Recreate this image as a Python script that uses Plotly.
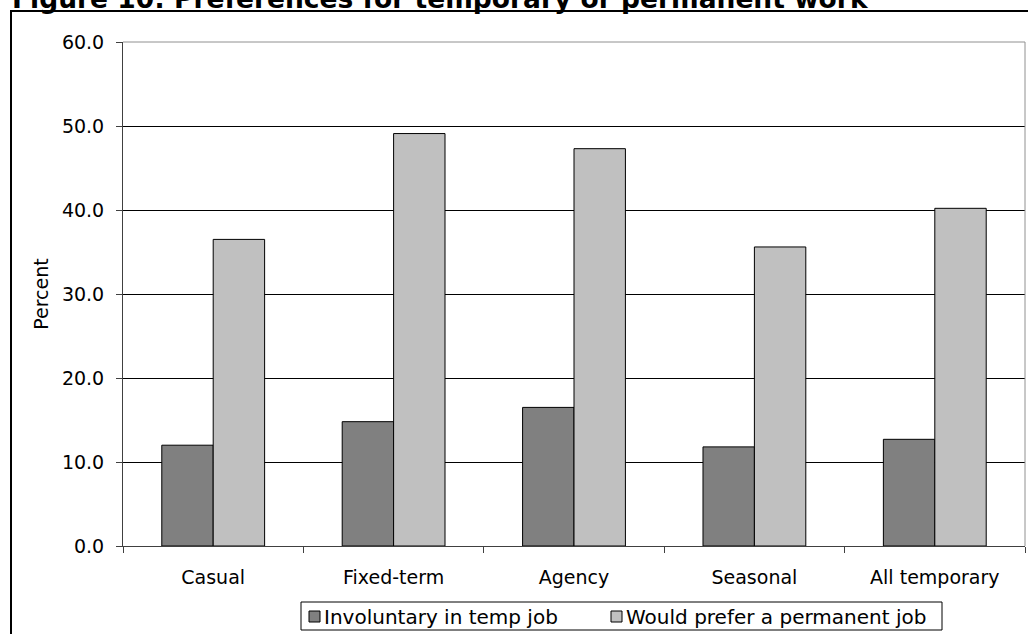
import plotly.graph_objects as go

categories = ["Casual", "Fixed-term", "Agency", "Seasonal", "All temporary"]
involuntary = [12.0, 14.8, 16.5, 11.8, 12.7]
prefer_permanent = [36.5, 49.1, 47.3, 35.6, 40.2]
series_names = ["Involuntary in temp job", "Would prefer a permanent job"]
series_colors = ["#808080", "#c0c0c0"]
title_text = "Figure 10: Preferences for temporary or permanent work"

W, H = 1028, 634
L, R, T, B = 123, 3, 42, 88
pw, ph = W - L - R, H - T - B


def px(x):
    return (x - L) / pw


def py(y):
    return (H - B - y) / ph


font = "Verdana, DejaVu Sans, sans-serif"
axis_col = "#404040"

fig = go.Figure()
for name, vals, col in zip(series_names, [involuntary, prefer_permanent], series_colors):
    fig.add_trace(go.Bar(x=categories, y=vals, name=name, showlegend=False,
                         marker=dict(color=col, line=dict(color="#000000", width=1))))

fig.update_layout(
    width=W, height=H,
    margin=dict(l=L, r=R, t=T, b=B),
    paper_bgcolor="white", plot_bgcolor="white",
    font=dict(family=font, size=19, color="#000000"),
    barmode="group", bargap=0.43, bargroupgap=0,
    xaxis=dict(showline=True, linecolor=axis_col, linewidth=1,
               ticks="outside", tickson="boundaries", ticklen=6, tickcolor=axis_col,
               showgrid=False, tickfont=dict(size=19), ticklabelstandoff=14),
    yaxis=dict(range=[0, 60], dtick=10, tickformat=".1f", showline=True, linecolor=axis_col,
               linewidth=1, ticks="outside", ticklen=6, tickcolor=axis_col,
               showgrid=True, gridcolor="#000000", gridwidth=1, zeroline=False,
               ticklabelstandoff=8,
               title=dict(text="Percent", font=dict(size=19), standoff=8),
               tickfont=dict(size=19)),
)

# plot area border (top and right), grey
fig.add_shape(type="line", xref="paper", yref="paper", x0=0, x1=1, y0=1, y1=1,
              line=dict(color="#909090", width=1), layer="above")
fig.add_shape(type="line", xref="paper", yref="paper", x0=1, x1=1, y0=0, y1=1,
              line=dict(color="#909090", width=1), layer="above")

# outer chart frame
fig.add_shape(type="rect", xref="paper", yref="paper",
              x0=px(11), x1=px(1045), y0=py(660), y1=py(11),
              line=dict(color="#000000", width=2), layer="above")

# title (top partly cut off, as in the reference)
fig.add_annotation(text="<b>" + title_text + "</b>", xref="paper", yref="paper",
                   x=px(10), xanchor="left", y=py(16), yanchor="bottom",
                   showarrow=False, font=dict(size=26.5, family=font))

# legend box
fig.add_shape(type="rect", xref="paper", yref="paper",
              x0=px(301), x1=px(942), y0=py(630), y1=py(602),
              line=dict(color="#000000", width=1), fillcolor="white", layer="above")
leg_marker_x = [309, 611]
leg_text_x = [323, 625]
for mx, tx, name, col in zip(leg_marker_x, leg_text_x, series_names, series_colors):
    fig.add_shape(type="rect", xref="paper", yref="paper",
                  x0=px(mx), x1=px(mx + 11), y0=py(622), y1=py(611),
                  line=dict(color="#000000", width=1), fillcolor=col, layer="above")
    fig.add_annotation(text=name, xref="paper", yref="paper", x=px(tx), xanchor="left",
                       y=py(616.5), yanchor="middle", showarrow=False,
                       font=dict(size=20, family=font), borderpad=0)

fig.write_html("out.html")
